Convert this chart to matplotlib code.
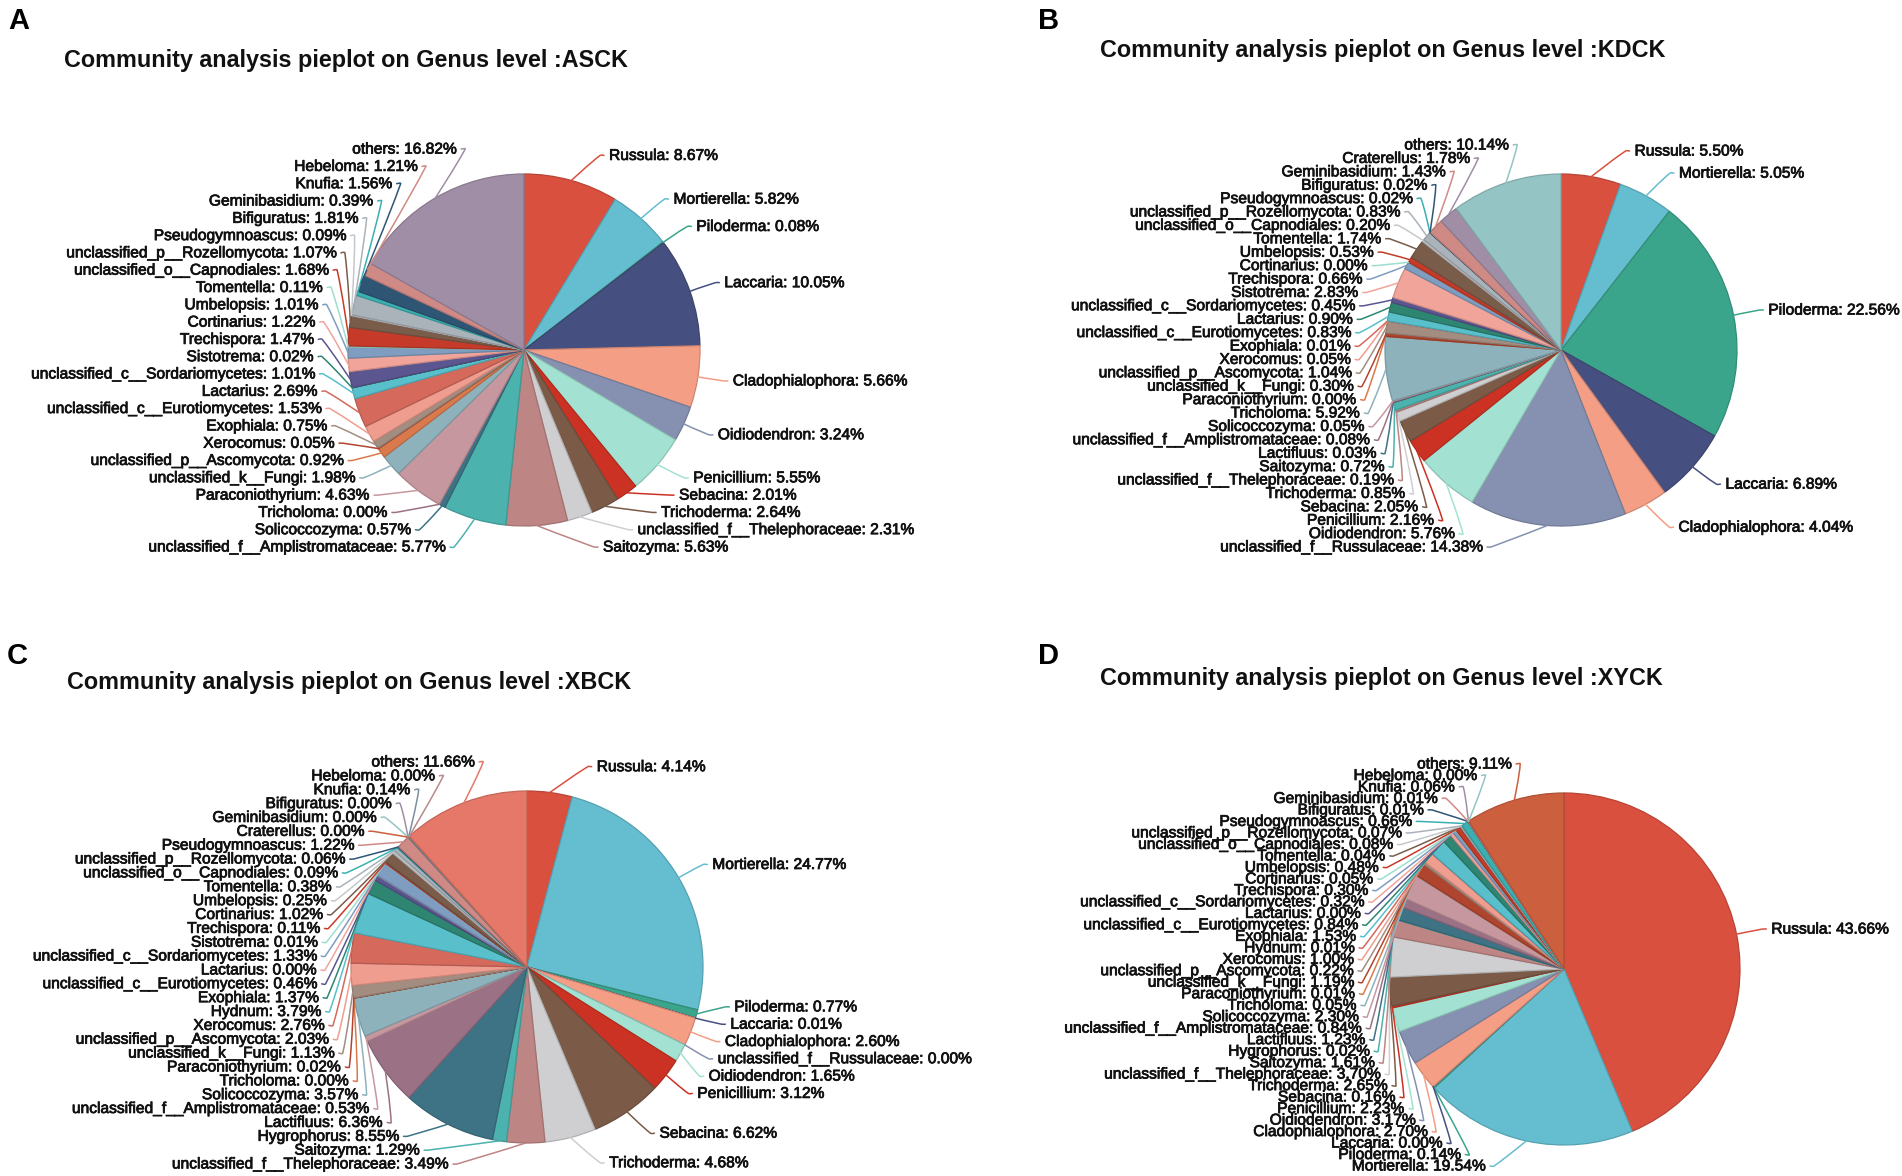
import numpy as np
import matplotlib
matplotlib.use("Agg")
import matplotlib.pyplot as plt
from matplotlib.path import Path
from matplotlib.patches import PathPatch
from matplotlib import colors as mcolors
import matplotlib.patheffects as pe

plt.rcParams['font.family'] = ['Liberation Sans', 'DejaVu Sans']

# ---------------- data ----------------
titles = ["Community analysis pieplot on Genus level :ASCK",
          "Community analysis pieplot on Genus level :KDCK",
          "Community analysis pieplot on Genus level :XBCK",
          "Community analysis pieplot on Genus level :XYCK"]
letters = ["A", "B", "C", "D"]

asck_names = ["Russula", "Mortierella", "Piloderma", "Laccaria", "Cladophialophora", "Oidiodendron",
              "Penicillium", "Sebacina", "Trichoderma", "unclassified_f__Thelephoraceae", "Saitozyma",
              "unclassified_f__Amplistromataceae", "Solicoccozyma", "Tricholoma", "Paraconiothyrium",
              "unclassified_k__Fungi", "unclassified_p__Ascomycota", "Xerocomus", "Exophiala",
              "unclassified_c__Eurotiomycetes", "Lactarius", "unclassified_c__Sordariomycetes", "Sistotrema",
              "Trechispora", "Cortinarius", "Umbelopsis", "Tomentella", "unclassified_o__Capnodiales",
              "unclassified_p__Rozellomycota", "Pseudogymnoascus", "Bifiguratus", "Geminibasidium", "Knufia",
              "Hebeloma", "others"]
asck_values = [8.67, 5.82, 0.08, 10.05, 5.66, 3.24, 5.55, 2.01, 2.64, 2.31, 5.63, 5.77, 0.57, 0.00, 4.63,
               1.98, 0.92, 0.05, 0.75, 1.53, 2.69, 1.01, 0.02, 1.47, 1.22, 1.01, 0.11, 1.68, 1.07, 0.09,
               1.81, 0.39, 1.56, 1.21, 16.82]

kdck_names = ["Russula", "Mortierella", "Piloderma", "Laccaria", "Cladophialophora",
              "unclassified_f__Russulaceae", "Oidiodendron", "Penicillium", "Sebacina", "Trichoderma",
              "unclassified_f__Thelephoraceae", "Saitozyma", "Lactifluus", "unclassified_f__Amplistromataceae",
              "Solicoccozyma", "Tricholoma", "Paraconiothyrium", "unclassified_k__Fungi",
              "unclassified_p__Ascomycota", "Xerocomus", "Exophiala", "unclassified_c__Eurotiomycetes",
              "Lactarius", "unclassified_c__Sordariomycetes", "Sistotrema", "Trechispora", "Cortinarius",
              "Umbelopsis", "Tomentella", "unclassified_o__Capnodiales", "unclassified_p__Rozellomycota",
              "Pseudogymnoascus", "Bifiguratus", "Geminibasidium", "Craterellus", "others"]
kdck_values = [5.50, 5.05, 22.56, 6.89, 4.04, 14.38, 5.76, 2.16, 2.05, 0.85, 0.19, 0.72, 0.03, 0.08, 0.05,
               5.92, 0.00, 0.30, 1.04, 0.05, 0.01, 0.83, 0.90, 0.45, 2.83, 0.66, 0.00, 0.53, 1.74, 0.20,
               0.83, 0.02, 0.02, 1.43, 1.78, 10.14]

xbck_names = ["Russula", "Mortierella", "Piloderma", "Laccaria", "Cladophialophora",
              "unclassified_f__Russulaceae", "Oidiodendron", "Penicillium", "Sebacina", "Trichoderma",
              "unclassified_f__Thelephoraceae", "Saitozyma", "Hygrophorus", "Lactifluus",
              "unclassified_f__Amplistromataceae", "Solicoccozyma", "Tricholoma", "Paraconiothyrium",
              "unclassified_k__Fungi", "unclassified_p__Ascomycota", "Xerocomus", "Hydnum", "Exophiala",
              "unclassified_c__Eurotiomycetes", "Lactarius", "unclassified_c__Sordariomycetes", "Sistotrema",
              "Trechispora", "Cortinarius", "Umbelopsis", "Tomentella", "unclassified_o__Capnodiales",
              "unclassified_p__Rozellomycota", "Pseudogymnoascus", "Bifiguratus", "Geminibasidium",
              "Craterellus", "Knufia", "Hebeloma", "others"]
xbck_values = [4.14, 24.77, 0.77, 0.01, 2.60, 0.00, 1.65, 3.12, 6.62, 4.68, 3.49, 1.29, 8.55, 6.36, 0.53,
               3.57, 0.00, 0.02, 1.13, 2.03, 2.76, 3.79, 1.37, 0.46, 0.00, 1.33, 0.01, 0.11, 1.02, 0.25,
               0.38, 0.09, 0.06, 1.22, 0.00, 0.00, 0.00, 0.14, 0.00, 11.66]

xyck_names = ["Russula", "Mortierella", "Piloderma", "Laccaria", "Cladophialophora", "Oidiodendron",
              "Penicillium", "Sebacina", "Trichoderma", "unclassified_f__Thelephoraceae", "Saitozyma",
              "Hygrophorus", "Lactifluus", "unclassified_f__Amplistromataceae", "Solicoccozyma", "Tricholoma",
              "Paraconiothyrium", "unclassified_k__Fungi", "unclassified_p__Ascomycota", "Xerocomus", "Hydnum",
              "Exophiala", "unclassified_c__Eurotiomycetes", "Lactarius", "unclassified_c__Sordariomycetes",
              "Trechispora", "Cortinarius", "Umbelopsis", "Tomentella", "unclassified_o__Capnodiales",
              "unclassified_p__Rozellomycota", "Pseudogymnoascus", "Bifiguratus", "Geminibasidium", "Knufia",
              "Hebeloma", "others"]
xyck_values = [43.66, 19.54, 0.14, 0.00, 2.70, 3.17, 2.23, 0.16, 2.65, 3.70, 1.61, 0.02, 1.23, 0.84, 2.30,
               0.05, 0.01, 1.19, 0.22, 1.00, 0.01, 1.53, 0.84, 0.00, 0.32, 0.30, 0.05, 0.48, 0.04, 0.08,
               0.07, 0.66, 0.01, 0.01, 0.06, 0.00, 9.11]

# ---------------- style ----------------
PALETTE = ["#D9503F", "#65BDD0", "#3AA58B", "#465080", "#F39E85", "#8691B1", "#A3E2D2", "#CC3223",
           "#7B5B47", "#CFCFD1", "#BD8583", "#4BB2AE", "#3D7385", "#9B7185", "#C7979F", "#8EB2BC",
           "#DA7A4C", "#B0452F", "#A38D80", "#EF9D8F", "#D4695C", "#58BFCB", "#2E8572", "#5B5590",
           "#F0A49A", "#7E9DC0", "#9EDDD0", "#C53A28", "#7A5C4A", "#C5C8CA", "#AAB2BA", "#3BB0B0",
           "#2F5575", "#D08A86", "#A08EA6", "#95C4C4", "#CC5F3E", "#7C8FA0", "#B88A8A", "#E57868"]

W, H = 1902, 1176
R = 176
L1, L2, GAP = 26, 4, 5
LINE_H = 17.3
FS = 11.2
ELL_B = 210.0

panel_specs = [
    dict(names=asck_names, values=asck_values, cx=524, cy=350, lx=8, ly=21, tx=64, ty=60),
    dict(names=kdck_names, values=kdck_values, cx=1561, cy=350, lx=1038, ly=21, tx=1100, ty=51),
    dict(names=xbck_names, values=xbck_values, cx=527, cy=967, lx=7, ly=656, tx=67, ty=682),
    dict(names=xyck_names, values=xyck_values, cx=1564, cy=969, lx=1038, ly=656, tx=1100, ty=679),
]

fig = plt.figure(figsize=(W / 100, H / 100), dpi=100)
ax = fig.add_axes([0, 0, 1, 1])
heavy = [pe.withStroke(linewidth=0.55, foreground='#111111')]


def darker(c, f=0.85):
    r, g, b = mcolors.to_rgb(c)
    return (r * f, g * f, b * f)


def pava(y):
    blocks = []
    for v in y:
        blocks.append([v, 1])
        while len(blocks) > 1 and blocks[-2][0] / blocks[-2][1] > blocks[-1][0] / blocks[-1][1]:
            s, c = blocks.pop()
            blocks[-1][0] += s
            blocks[-1][1] += c
    out = []
    for s, c in blocks:
        out += [s / c] * c
    return np.array(out)


def smooth_curve(p0, p1, p2, smooth=0.35):
    p0, p1, p2 = (np.asarray(p, float) for p in (p0, p1, p2))
    v = (p2 - p0) * smooth
    d0 = np.linalg.norm(p1 - p0)
    d1 = np.linalg.norm(p2 - p1)
    s = d0 + d1
    if s > 0:
        d0 /= s
        d1 /= s
    c0 = p1 - v * d0
    c1 = p1 + v * d1
    verts = [p0, p0, c0, p1, c1, p2, p2]
    codes = [Path.MOVETO] + [Path.CURVE4] * 6
    return verts, codes


for k, p in enumerate(panel_specs):
    cx, cy = p["cx"], p["cy"]
    vals = np.array(p["values"], float)
    names = p["names"]
    n = len(vals)
    cols = [PALETTE[i % len(PALETTE)] for i in range(n)]

    wedges, _ = ax.pie(vals, radius=R, center=(cx, H - cy), startangle=90, counterclock=False,
                       colors=cols, wedgeprops=dict(linewidth=0.9), normalize=True)
    for w, c in zip(wedges, cols):
        w.set_edgecolor(darker(c))

    # label layout (pixel coordinates, y downward)
    total = vals.sum()
    cum = np.cumsum(vals) / total
    mid = (cum - vals / total / 2) * 2 * np.pi
    s_, c_ = np.sin(mid), np.cos(mid)
    dirs = np.where(s_ < 0, -1, 1)
    rA = R + L1
    x1 = cx + R * s_
    y1 = cy - R * c_
    yi = cy - rA * c_
    ylab = yi.copy()
    ymin, ymax = cy - 205, cy + 197
    for side in (1, -1):
        idx = [i for i in range(n) if dirs[i] == side]
        idx.sort(key=lambda i: yi[i])
        m = len(idx)
        if m == 0:
            continue
        hh = LINE_H if m < 2 else min(LINE_H, (ymax - ymin) / (m - 1))
        z = np.array([yi[i] - j * hh for j, i in enumerate(idx)])
        z = pava(z)
        z = np.clip(z, ymin, ymax - (m - 1) * hh)
        for j, i in enumerate(idx):
            ylab[i] = z[j] + j * hh

    rB = max(ELL_B, np.abs(ylab - cy).max() + 1.0)
    xoff = np.array([np.sqrt(max(0.0, 1 - (ylab[i] - cy) ** 2 / rB ** 2)) * rA for i in range(n)])

    for i in range(n):
        d = dirs[i]
        p3x = cx + d * (xoff[i] + L2)
        p2x = cx + d * xoff[i]
        verts, codes = smooth_curve((x1[i], H - y1[i]), (p2x, H - ylab[i]), (p3x, H - ylab[i]))
        ax.add_patch(PathPatch(Path(verts, codes), fill=False, edgecolor=cols[i], lw=1.1,
                               capstyle='round'))
        tx = p3x + d * GAP
        ax.text(tx, H - ylab[i], f"{names[i]}: {vals[i]:.2f}%", ha='left' if d > 0 else 'right',
                va='center', fontsize=FS, color='#111111', path_effects=heavy)

    ax.text(p["tx"], H - p["ty"], titles[k], ha='left', va='center', fontsize=16.8,
            fontweight='bold', color='#111111')
    ax.text(p["lx"], H - p["ly"], letters[k], ha='left', va='center', fontsize=21,
            fontweight='bold', color='#000000')

ax.set_xlim(0, W)
ax.set_ylim(0, H)
ax.set_aspect('auto')
ax.axis('off')
fig.savefig("out.png", dpi=100, facecolor='white')
